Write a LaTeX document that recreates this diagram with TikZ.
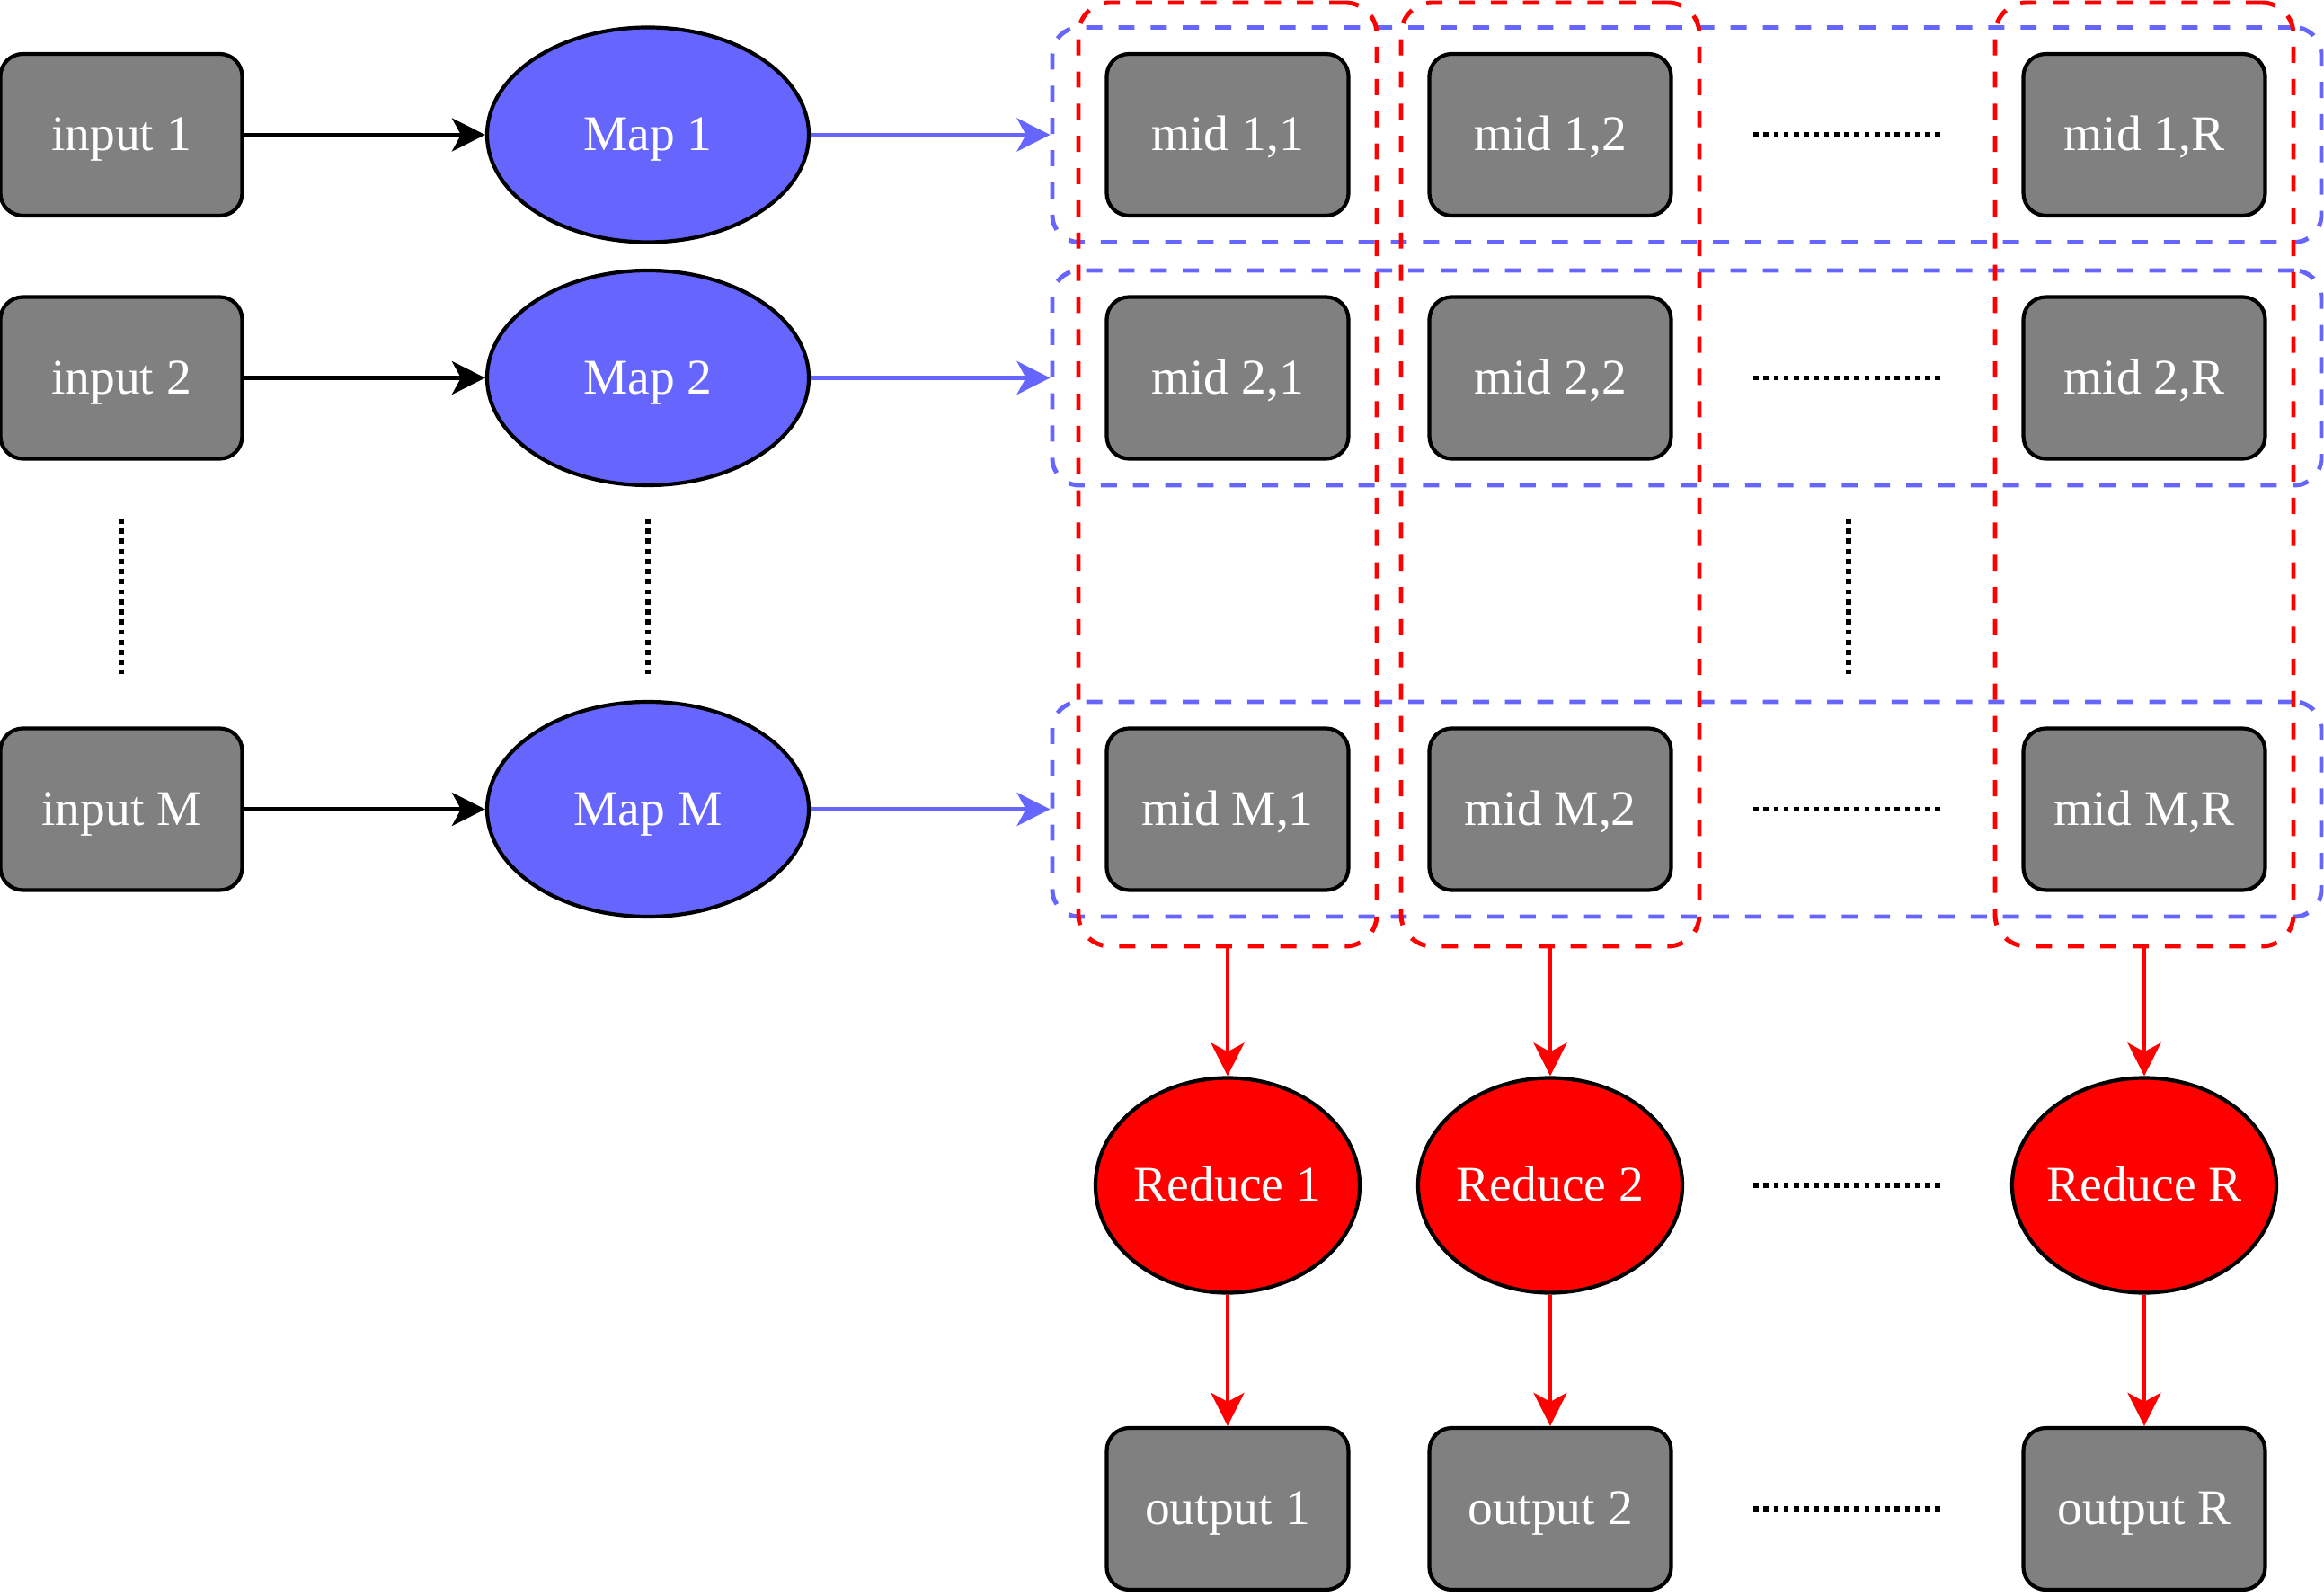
\documentclass[tikz,border=0pt]{standalone}
\usepackage{fontspec}
\setmainfont{Liberation Serif}
\usetikzlibrary{arrows.meta,shapes.geometric}
\definecolor{mapblue}{HTML}{6666FF}
\definecolor{boxgray}{HTML}{808080}
\begin{document}
\begin{tikzpicture}[>={Stealth[length=3.7mm,width=3.7mm,inset=1mm]}]
			\tikzset{
				label font/.style={text=white, font=\fontsize{15.8}{19}\selectfont,
						text height=13.6pt, text depth=3.5pt},
				box/.style={draw, line width=1.2pt, fill=boxgray, rounded corners=0.25cm,
						minimum width=2.69cm, minimum height=1.8cm, label font},
				mapper/.style={ellipse, draw, line width=1.2pt, fill=mapblue, inner sep=0,
						minimum width=3.58cm, minimum height=2.39cm, label font},
				reducer/.style={ellipse, draw, line width=1.2pt, fill=red, inner ysep=0, inner xsep=-3pt,
						minimum width=2.94cm, minimum height=2.39cm, label font},
				rowbox/.style={draw=mapblue, line width=1.4pt, dash pattern=on 5.1pt off 5.1pt,
						rounded corners=0.3cm, minimum width=14.12cm, minimum height=2.39cm},
				colbox/.style={draw=red, line width=1.4pt, dash pattern=on 5.1pt off 5.1pt,
						rounded corners=0.35cm, minimum width=3.32cm, minimum height=10.5cm},
				dotline/.style={line width=1.6pt, dash pattern=on 1.6pt off 1.6pt},
			}
			\useasboundingbox (0,0) rectangle (25.86,-17.76);
			% groups
			\foreach \r/\y in {1/-1.50, 2/-4.205, M/-9.005} {
					\node[rowbox] (row\r) at (18.77,\y) {};
				}
			\foreach \c/\x in {1/13.66, 2/17.25, R/23.86} {
					\node[colbox] (col\c) at (\x,-5.28) {};
				}
			% map side
			\foreach \r/\y in {1/-1.50, 2/-4.205, M/-9.005}
				{
					\node[box] (in\r) at (1.35,\y) {input \r};
					\node[mapper] (map\r) at (7.21,\y) {Map \r};
					\draw[->, line width=1.3pt] (in\r) -- (map\r);
					\draw[->, mapblue, line width=1.3pt] (map\r) -- (row\r);
					\foreach \c/\x in {1/13.66, 2/17.25, R/23.86}{
							\node[box] (mid\r\c) at (\x,\y) {mid \r,\c};
						}
				}
			% reduce side
			\foreach \c/\x in {1/13.66, 2/17.25, R/23.86}
				{
					\node[reducer] (red\c) at (\x,-13.19) {Reduce \c};
					\node[box] (out\c) at (\x,-16.79) {output \c};
					\draw[->, red, line width=1.3pt] (col\c) -- (red\c);
					\draw[->, red, line width=1.3pt] (red\c) -- (out\c);
				}
			% ellipses
			\foreach \y in {-1.50, -4.205, -9.005, -13.19, -16.79} {
					\draw[dotline] (19.51,\y) -- (21.60,\y);
				}
			\foreach \x in {1.35, 7.21, 20.57} {
					\draw[dotline] (\x,-5.77) -- (\x,-7.50);
				}
		\end{tikzpicture}
\end{document}
